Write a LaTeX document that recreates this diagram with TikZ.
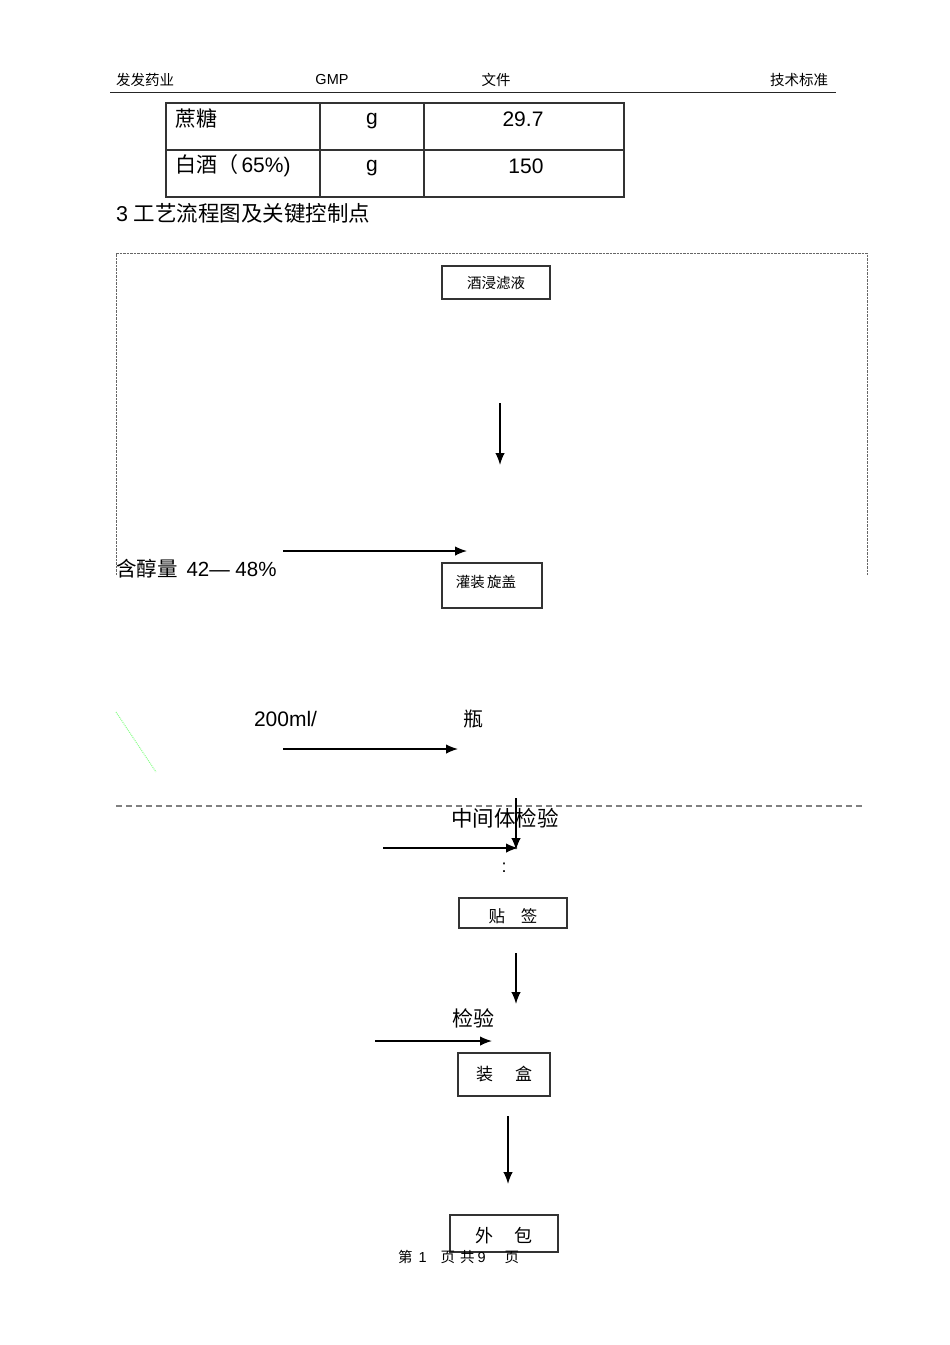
\documentclass[tikz,border=0pt]{standalone}
\usepackage{fontspec}
\setmainfont{Liberation Sans}
\newfontfamily\cjk{Noto Sans CJK SC}
\usetikzlibrary{arrows.meta}
\tikzset{
  fs/.style={font=\fontsize{#1}{#1}\selectfont},
  txt/.style={inner sep=0pt, outer sep=0pt},
  pbox/.style={draw=black!80, line width=1.1pt, inner sep=0pt},
  arr/.style={line width=1.5pt, -{Latex[length=12pt,width=9.5pt]}},
  rule/.style={line width=1pt, black!85},
  tbl/.style={line width=1.1pt, black!80},
}
\begin{document}
\begin{tikzpicture}[x=1pt,y=-1pt]
\useasboundingbox[fill=white] (0,0) rectangle (950,1345);
% header
\node[txt, fs=14.5, anchor=west] (h1) at (116,80) {\cjk 发发药业};
\node[txt, fs=14.5] (h2) at (332,80) {GMP};
\node[txt, fs=14.5] (h3) at (496,80) {\cjk 文件};
\node[txt, fs=14.5, anchor=east] (h4) at (828,80) {\cjk 技术标准};
\draw[rule] (110,92) -- (836,92);
% table
\draw[tbl] (166,103) rectangle (624,197);
\draw[tbl] (166,150) -- (624,150);
\draw[tbl] (320,103) -- (320,197);
\draw[tbl] (424,103) -- (424,197);
\node[txt, fs=21, anchor=west] (t11) at (175,119) {\cjk 蔗糖};
\node[txt, fs=21] (t12) at (372,121) {g};
\node[txt, fs=21] (t13) at (523,119) {29.7};
\node[txt, fs=21, anchor=west] (t21) at (175,166) {{\cjk 白酒（}\,65\%)};
\node[txt, fs=21] (t22) at (372,168) {g};
\node[txt, fs=21] (t23) at (526,166) {150};
\node[txt, fs=21.5, anchor=west] (sec) at (116,213) {3 {\cjk 工艺流程图及关键控制点}};
% dashed frame
\draw[black!60, line width=0.9pt, dash pattern=on 2.5pt off 1pt] (116,575) -- (116,253) -- (867,253) -- (867,575);
% boxes
\node[pbox, minimum width=108pt, minimum height=33pt, fs=14.5] (b1) at (496,282.5) {\cjk 酒浸滤液};
\coordinate (a1s) at (500,403);
\coordinate (a1e) at (500,465);
\draw[arr] (a1s) -- (a1e);
\coordinate (a2s) at (283,551);
\coordinate (a2e) at (467,551);
\draw[arr] (a2s) -- (a2e);
\node[txt, fs=20.5, anchor=west] (alc) at (116,569) {{\cjk 含醇量}\hspace{9pt}42— 48\%};
\node[pbox, minimum width=100pt, minimum height=45pt] (b2) at (492,585.5) {};
\node[txt, fs=14.5] (b2t) at (486,582) {\cjk 灌装\,旋盖};
% green stray line
\draw[green!45!white, line width=1pt, densely dotted] (116,712) -- (156,772);
\node[txt, fs=21, anchor=west] (ml) at (254,719) {200ml/};
\node[txt, fs=20] (ping) at (473,719) {\cjk 瓶};
\coordinate (a3s) at (283,749);
\coordinate (a3e) at (458,749);
\draw[arr] (a3s) -- (a3e);
% dashed separator
\draw[black!50, line width=1.2pt, dash pattern=on 6pt off 4pt] (116,806) -- (865,806);
\node[txt, fs=21.5, anchor=west] (mid) at (451,818) {\cjk 中间体检验};
\coordinate (a4s) at (516,798);
\coordinate (a4e) at (516,850);
\draw[arr] (a4s) -- (a4e);
\coordinate (a5s) at (383,848);
\coordinate (a5e) at (518,848);
\draw[arr] (a5s) -- (a5e);
\node[txt, fs=18] (colon) at (504,868) {:};
\node[pbox, minimum width=108pt, minimum height=30pt] (b3) at (513,913) {};
\node[txt, fs=16.5] (b3t) at (513,916) {\cjk 贴\hspace{16pt}签};
\coordinate (a6s) at (516,953);
\coordinate (a6e) at (516,1004);
\draw[arr] (a6s) -- (a6e);
\node[txt, fs=21] (jy) at (473,1018) {\cjk 检验};
\coordinate (a7s) at (375,1041);
\coordinate (a7e) at (492,1041);
\draw[arr] (a7s) -- (a7e);
\node[pbox, minimum width=92pt, minimum height=43pt] (b4) at (504,1074.5) {};
\node[txt, fs=17] (b4t) at (504,1074) {\cjk 装\hspace{22pt}盒};
\coordinate (a8s) at (508,1116);
\coordinate (a8e) at (508,1184);
\draw[arr] (a8s) -- (a8e);
\node[pbox, minimum width=108pt, minimum height=37pt] (b5) at (504,1233.5) {};
\node[txt, fs=18] (b5t) at (504,1236) {\cjk 外\hspace{22pt}包};
% footer
\node[txt, fs=14.5, anchor=west] (foot) at (398,1257) {{\cjk 第}\hspace{6pt}1\hspace{14pt}{\cjk 页}\hspace{5pt}{\cjk 共}\hspace{3pt}9\hspace{19pt}{\cjk 页}};
\end{tikzpicture}
\end{document}
